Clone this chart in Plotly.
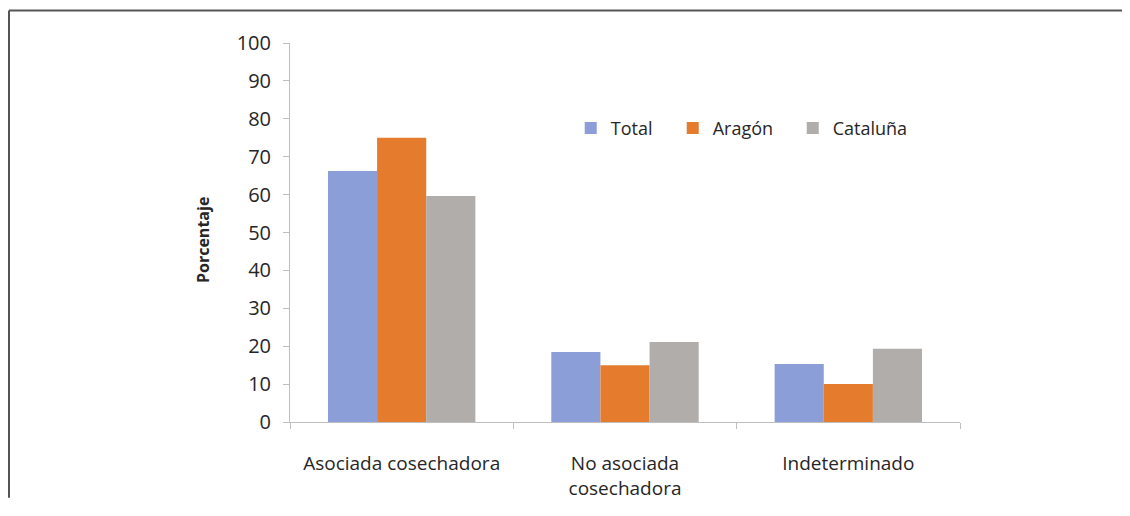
import plotly.graph_objects as go

categorias = ['Asociada cosechadora', 'No asociada<br>cosechadora', 'Indeterminado']
total = [66.2, 18.5, 15.3]
aragon = [75.0, 15.0, 10.0]
cataluna = [59.6, 21.1, 19.3]

_FONT = 'Open Sans, Lato, sans-serif'
_AXIS = '#BFBFBF'
_TXT = '#262626'

fig = go.Figure()
fig.add_trace(go.Bar(name='Total', x=categorias, y=total, marker_color='#8C9ED8', legendwidth=57))
fig.add_trace(go.Bar(name='Aragón', x=categorias, y=aragon, marker_color='#E57B2C', legendwidth=75))
fig.add_trace(go.Bar(name='Cataluña', x=categorias, y=cataluna, marker_color='#B0ADAA'))

fig.update_traces(marker_line_width=0)

# la página añade 8px de margen al cuerpo: el tamaño se ajusta para no tener scroll
fig.update_layout(
    width=1114,
    height=500,
    barmode='group',
    bargap=0.34,
    bargroupgap=0,
    paper_bgcolor='white',
    plot_bgcolor='white',
    font=dict(family=_FONT, size=19, color=_TXT),
    margin=dict(l=282, r=162, t=35, b=86, autoexpand=False),
    showlegend=True,
    legend=dict(
        orientation='h', x=0.419, y=0.775, xanchor='left', yanchor='middle',
        font=dict(size=18), itemwidth=30, bgcolor='rgba(0,0,0,0)',
    ),
    xaxis=dict(
        showline=True, linecolor=_AXIS, linewidth=1, automargin=False,
        ticks='outside', tickson='boundaries', ticklen=6, tickcolor=_AXIS,
        showgrid=False, ticklabelstandoff=24,
    ),
    yaxis=dict(
        range=[0, 100], dtick=10, automargin=False,
        showline=True, linecolor=_AXIS, linewidth=1,
        ticks='outside', ticklen=6, tickcolor=_AXIS,
        showgrid=False, zeroline=False, ticklabelstandoff=8,
        tickfont=dict(size=20),
    ),
    annotations=[
        dict(text='<b>Porcentaje</b>', xref='paper', yref='paper',
             x=-0.129, y=0.479, xanchor='center', yanchor='middle',
             textangle=-90, showarrow=False,
             font=dict(size=16, color=_TXT)),
    ],
    shapes=[
        dict(type='line', xref='paper', yref='paper',
             x0=-0.4194, x1=1.2418, y0=1.0858, y1=1.0858,
             line=dict(color='#555555', width=2)),
        dict(type='line', xref='paper', yref='paper',
             x0=-0.4194, x1=-0.4194, y0=1.0858, y1=-0.2,
             line=dict(color='#555555', width=2)),
    ],
)

fig.write_html('out.html')
